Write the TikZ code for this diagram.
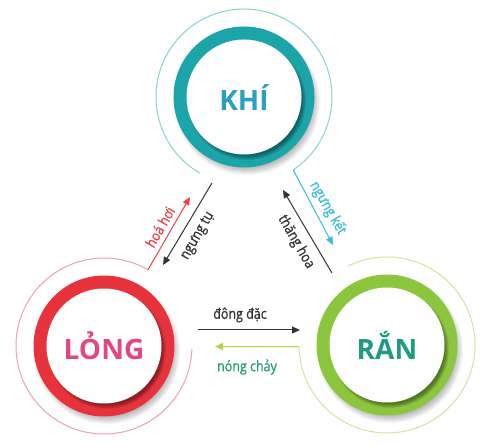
\documentclass[tikz,border=0pt]{standalone}
\usepackage{fontspec}
\setmainfont{Open Sans}
\newfontfamily\lblfont[FakeStretch=0.86,FakeBold=0.8]{Open Sans}
\usetikzlibrary{arrows.meta,calc}
\definecolor{khi}{HTML}{1BA5A8}
\definecolor{khitext}{HTML}{2B9FC4}
\definecolor{khithin}{HTML}{86D3D2}
\definecolor{longc}{HTML}{E7343C}
\definecolor{longtext}{HTML}{E2497A}
\definecolor{longthin}{HTML}{E9A3AC}
\definecolor{ran}{HTML}{8CC63F}
\definecolor{rantext}{HTML}{1F9B80}
\definecolor{ranthin}{HTML}{D5E4A2}
\definecolor{ketcol}{HTML}{3BBCD2}
\definecolor{hoicol}{HTML}{E8434B}
\definecolor{chaycol}{HTML}{2A9D70}
\definecolor{chayline}{HTML}{B2D24A}
\definecolor{darktxt}{HTML}{333333}
\newcommand\myring[2]{%
 \begin{scope}[shift={(#1)}]
  \foreach \i in {0,...,7} \fill[black,opacity=0.035] (3,-5) circle ({66+\i});
  \fill[#2] (0,0) circle (70.5);
  \foreach \i in {0,...,5} \fill[black,opacity=0.08] (3,-4) circle ({55+\i*0.8});
  \fill[white] (0,0) circle (57.5);
 \end{scope}}
\begin{document}
\begin{tikzpicture}[x=1pt,y=1pt,
  lbl/.style={font=\lblfont\fontsize{14.5}{14.5}\selectfont, inner sep=0pt},
  big/.style={font=\fontsize{28}{28}\selectfont\bfseries, inner sep=0pt},
  tipped/.style={-{Triangle[length=8pt,width=7pt]}},
  thinline/.style={line width=1pt},
  ]
\useasboundingbox (0,0) rectangle (486,446);
\fill[white] (0,0) rectangle (486,446);

\coordinate (khiC) at (244,349);
\coordinate (longC) at (104,100);
\coordinate (ranC) at (387,101);

\myring{244,349}{khi}
\myring{104,100}{longc}
\myring{387,101}{ran}

\node[big, text=khitext] (khi) at (khiC) {KHÍ};
\node[big, text=longtext] (long) at (longC) {LỎNG};
\node[big, text=rantext] (ran) at (ranC) {RẮN};

% thin arcs and coloured arrows
\coordinate (kA) at ($(khiC)+(240:88)$);
\coordinate (kB) at ($(khiC)+(-56:88)$);
\coordinate (ketTip) at (333,201);
\draw[thinline, khithin] (kA) arc[start angle=240, end angle=-56, radius=88];
\draw[thinline, ketcol, tipped] (kB) -- (ketTip);

\coordinate (lA) at ($(longC)+(60:88)$);
\coordinate (hoiTip) at (190,249);
\draw[thinline, longthin] (lA) arc[start angle=60, end angle=358, radius=88];
\draw[thinline, hoicol, tipped] (lA) -- (hoiTip);

\coordinate (rA) at ($(ranC)+(116:88)$);
\coordinate (rB) at ($(ranC)+(-179:88)$);
\coordinate (chayTip) at (215,99.5);
\draw[thinline, ranthin] (rA) arc[start angle=116, end angle=-179, radius=88];
\draw[thinline, chayline, tipped] (rB) -- (chayTip);

% black arrows
\coordinate (tuA) at (212,263);
\coordinate (tuB) at (163,181);
\draw[thinline, darktxt, tipped] (tuA) -- (tuB);
\coordinate (thA) at (332,173);
\coordinate (thB) at (283,256);
\draw[thinline, darktxt, tipped] (thA) -- (thB);
\coordinate (dA) at (198,116);
\coordinate (dB) at (300,116);
\draw[thinline, darktxt, tipped] (dA) -- (dB);

% labels
\node[lbl, text=hoicol, rotate=60] (hoahoi) at (160,219) {hoá hơi};
\node[lbl, text=darktxt, rotate=60] (ngungtu) at (198,210) {ngưng tụ};
\node[lbl, text=ketcol, rotate=-60] (ngungket) at (328,238) {ngưng kết};
\node[lbl, text=darktxt, rotate=-60] (thanghoa) at (296,204) {thăng hoa};
\node[lbl, text=darktxt] (dongdac) at (240,131) {đông đặc};
\node[lbl, text=chaycol] (nongchay) at (247,79) {nóng chảy};
\end{tikzpicture}
\end{document}
